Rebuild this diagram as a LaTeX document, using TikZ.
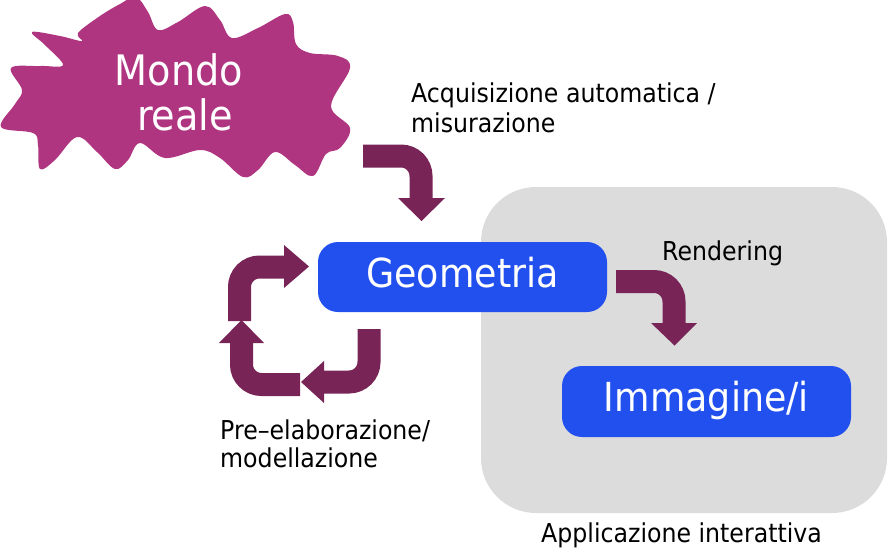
\documentclass[tikz,border=0pt]{standalone}
\usepackage{fontspec}
\setmainfont{DejaVu Sans}[FakeStretch=0.91]
\definecolor{cloudc}{RGB}{176,53,128}
\definecolor{arrowc}{RGB}{120,36,87}
\definecolor{boxblue}{RGB}{33,80,239}
\definecolor{appgray}{RGB}{220,220,220}
\begin{document}
\begin{tikzpicture}[x=1pt,y=-1pt,
  shaft/.style={draw=arrowc, line width=23pt, rounded corners=20pt},
  head/.style={fill=arrowc},
  bluebox/.style={fill=boxblue, draw=none, rounded corners=20pt, text=white,
    font=\fontsize{40}{48}\selectfont, text height=30pt, text depth=10pt, inner sep=0pt},
  lbl/.style={anchor=base west, inner sep=0pt, font=\fontsize{26}{30}\selectfont},
  cloudtxt/.style={anchor=base, inner sep=0pt, text=white, font=\fontsize{42}{48}\selectfont}]
\useasboundingbox (0,0) rectangle (892,550);
% application area
\fill[appgray, rounded corners=55pt] (481,187) rectangle (887,513);
% cloud
\fill[cloudc] plot[smooth cycle, tension=0.6] coordinates {
  (120,4) (136,-3) (148,12) (158,30) (178,22) (205,6) (220,20) (232,38)
  (258,28) (285,14) (293,22) (296,44) (310,53) (338,56) (350,68)
  (331,106) (350,128) (340,148) (326,154) (313,176) (295,165)
  (275,152) (258,170) (243,177) (220,158) (200,150) (165,158) (140,143)
  (128,160) (115,169) (97,152) (77,137) (55,160) (40,169) (38,145) (33,133)
  (1,127) (15,104) (22,90) (11,68) (40,66) (63,65) (45,45) (32,32) (60,36) (82,41)
  (78,33) (100,16)};
\node[cloudtxt] (mondo) at (179,85) {Mondo};
\node[cloudtxt] (reale) at (185,130) {reale};
% boxes
\node[bluebox, minimum width=289pt, minimum height=70pt] (geo) at (462.5,277) {Geometria};
\node[bluebox, minimum width=289pt, minimum height=71pt] (img) at (706.5,401.5) {Immagine/i};
% labels
\node[lbl] (acq1) at (411,102) {Acquisizione automatica /};
\node[lbl] (acq2) at (411,132) {misurazione};
\node[lbl] (rend) at (662,260) {Rendering};
\node[lbl] (pre1) at (220,439) {Pre–elaborazione/};
\node[lbl] (pre2) at (220,467) {modellazione};
\node[lbl] (app) at (541,542) {Applicazione interattiva};
% acquisition arrow
\draw[shaft] (363,156) -- (421,156) -- (421,199);
\fill[head] (398,198) -- (445,198) -- (421.5,221) -- cycle;
% rendering arrow
\draw[shaft] (616,281.5) -- (674,281.5) -- (674,324);
\fill[head] (651,323) -- (697,323) -- (674.5,345.5) -- cycle;
% modelling cycle
\draw[shaft] (239.5,321) -- (239.5,267) -- (285,267);
\fill[head] (284,245) -- (284,288) -- (309,266.5) -- cycle;
\draw[shaft] (300,384.5) -- (241.5,384.5) -- (241.5,342);
\fill[head] (219,343) -- (264,343) -- (241.5,320) -- cycle;
\draw[shaft] (369,329) -- (369,382) -- (323,382);
\fill[head] (324,361) -- (324,403) -- (301,382) -- cycle;
\end{tikzpicture}
\end{document}
